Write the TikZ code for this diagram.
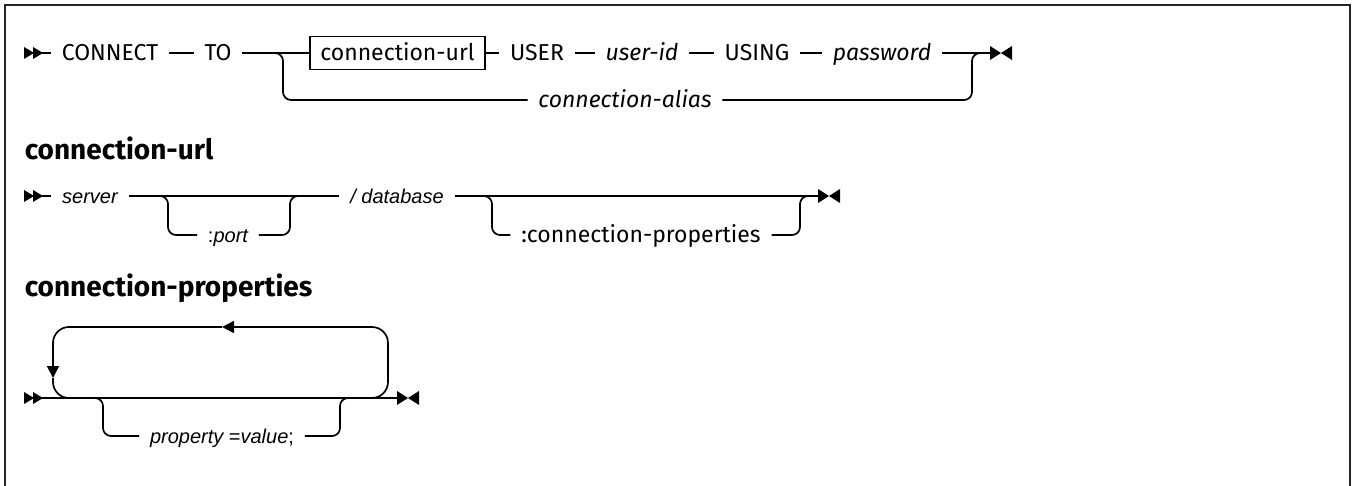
\documentclass[tikz,border=0pt]{standalone}
\usepackage{fontspec}
\setmainfont{Fira Sans}
\newfontfamily\helv{Liberation Sans}
\usetikzlibrary{arrows.meta}

\tikzset{
  kw/.style={font=\fontsize{11.5}{14}\selectfont, inner xsep=5pt, inner ysep=1pt,
             text height=9.9pt, text depth=2pt},
  var/.style={kw, font=\fontsize{11.5}{14}\selectfont\itshape},
  avar/.style={kw, font=\fontsize{10}{12}\selectfont\helv\itshape, text height=9.2pt},
  head/.style={font=\fontsize{14}{17}\selectfont\bfseries, anchor=west, inner sep=0pt},
  rnd/.style={rounded corners=4pt},
  startmk/.pic={\fill (0,-6) -- (10,0) -- (0,6) -- cycle;
                \fill (9,-6) -- (19,0) -- (9,6) -- cycle;},
  endmk/.pic={\fill (0,-7) -- (11,0) -- (0,7) -- cycle;
              \fill (22,-7) -- (11,0) -- (22,7) -- cycle;}
}

\begin{document}
\begin{tikzpicture}[x=0.5pt, y=-0.5pt, line width=0.85pt,
                    >={Triangle[length=6pt,width=6pt]}]
    % Fixed Bounding Box, frame open at the bottom
    \useasboundingbox (0,0) rectangle (1353,486);
    \fill[white] (0,0) rectangle (1353,486);
    \draw[line width=1.2pt, black!85] (5,486) -- (5,5) -- (1350,5) -- (1350,486);

    % CONNECT TO ...
    \pic at (24,53) {startmk};
    \coordinate (s1) at (42,53);
    \node[kw] (connect) at (110,53) {CONNECT};
    \node[kw] (to) at (218,53) {TO};
    \node[kw, draw, minimum width=85.5pt, minimum height=16.5pt] (url) at (397.5,53) {connection-url};
    \node[kw] (user) at (537,53) {USER};
    \node[var] (userid) at (642,53) {user-id};
    \node[kw] (using) at (757,53) {USING};
    \node[var] (pwd) at (882,53) {password};
    \node[var] (alias) at (625,100) {connection-alias};
    \coordinate (j1) at (273,53);
    \coordinate (j2) at (972,53);
    \coordinate (e1) at (990,53);
    \draw (s1) -- (connect);
    \draw (connect) -- (to);
    \draw (to) -- (url);
    \draw (url) -- (user);
    \draw (user) -- (userid);
    \draw (userid) -- (using);
    \draw (using) -- (pwd);
    \draw (pwd) -- (e1);
    \draw[rnd] (j1) -- ++(10,0) |- (alias);
    \draw[rnd] (alias) -| (j2) -- (e1);
    \pic at (e1) {endmk};

    % connection-url
    \node[head] (hurl) at (24,148) {connection-url};
    \pic at (24,196) {startmk};
    \coordinate (s2) at (42,196);
    \node[avar] (server) at (90,196) {server};
    \node[avar] (db) at (397,196) {/ database};
    \node[avar] (port) at (228,235) {\upshape:\itshape port};
    \node[kw] (cprops) at (641,235) {:connection-properties};
    \coordinate (j3) at (158,196);
    \coordinate (j4) at (290,196);
    \coordinate (j5) at (482,196);
    \coordinate (j6) at (800,196);
    \coordinate (e2) at (818,196);
    \draw (s2) -- (server);
    \draw (server) -- (db);
    \draw (db) -- (e2);
    \draw[rnd] (j3) -- ++(10,0) |- (port);
    \draw[rnd] (port) -| (j4) -- ++(10,0);
    \draw[rnd] (j5) -- ++(10,0) |- (cprops);
    \draw[rnd] (cprops) -| (j6) -- (e2);
    \pic at (e2) {endmk};

    % connection-properties, repeated
    \node[head] (hprops) at (24,288) {connection-properties};
    \pic at (24,398) {startmk};
    \coordinate (s3) at (42,398);
    \coordinate (e3) at (397,398);
    \draw (s3) -- (e3);
    \coordinate (lpr) at (368,398);
    \coordinate (lptop) at (222,327);
    \coordinate (lpl) at (53,378);
    \coordinate (lpend) at (74,398);
    \draw[rounded corners=8pt, ->] (lpr) -| (388,327) -- (lptop);
    \draw[rounded corners=8pt, ->] (lptop) -| (lpl);
    \draw[rounded corners=8pt] (lpl) |- (lpend);
    \node[avar] (prop) at (222,436) {property \upshape=\itshape value\upshape;};
    \coordinate (j7) at (93,398);
    \coordinate (j8) at (340,398);
    \draw[rnd] (j7) -- ++(10,0) |- (prop);
    \draw[rnd] (prop) -| (j8) -- ++(8,0);
    \pic at (e3) {endmk};
\end{tikzpicture}
\end{document}
